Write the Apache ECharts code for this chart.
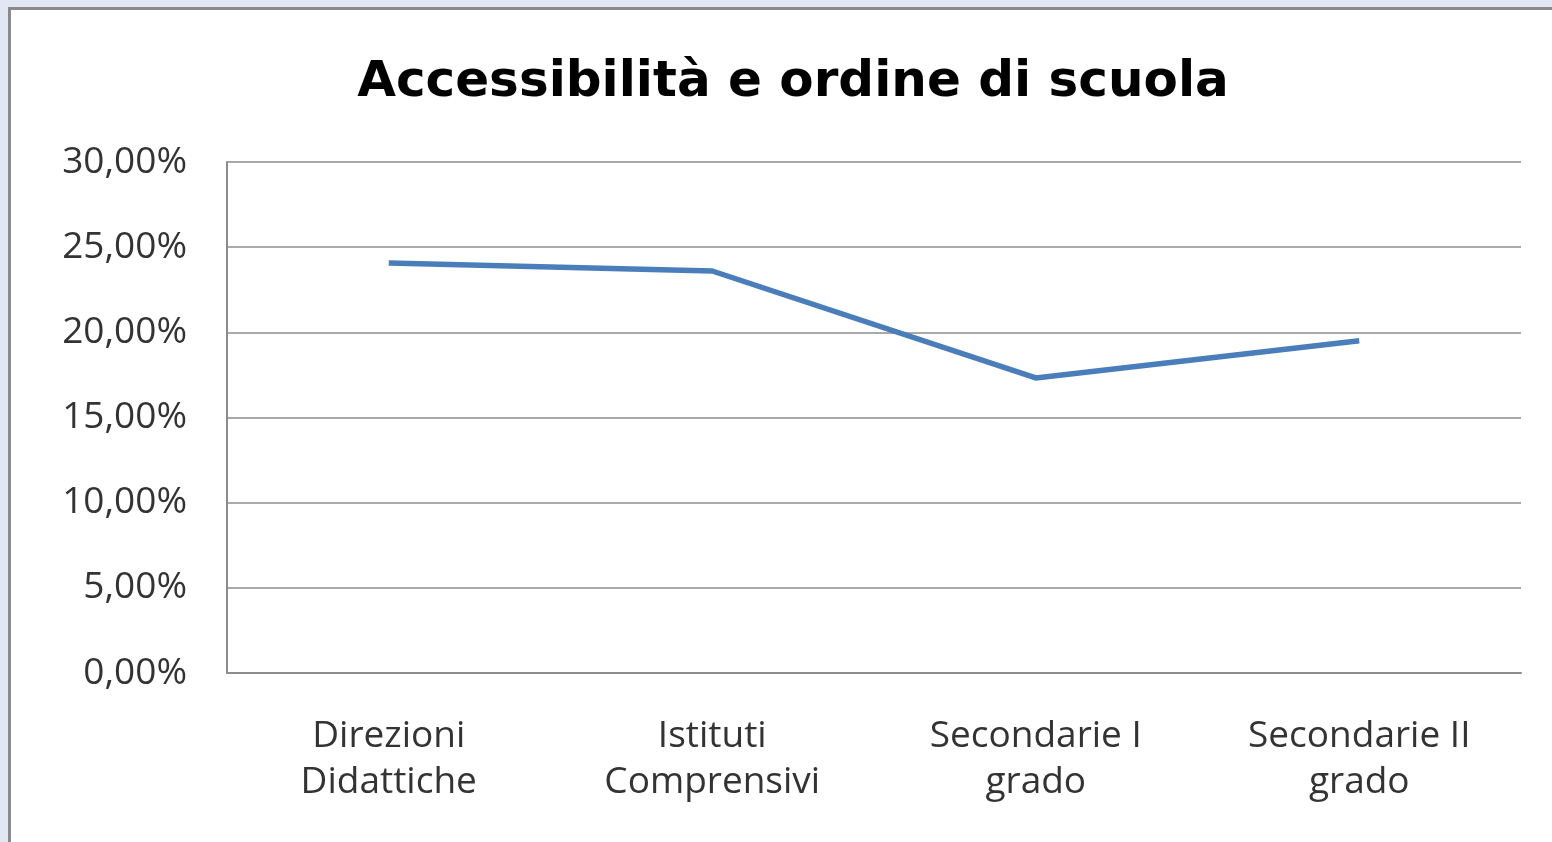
<!DOCTYPE html>
<html>
<head>
<meta charset="utf-8">
<script src="https://cdn.jsdelivr.net/npm/echarts@6/dist/echarts.min.js"></script>
<style>
  html, body { margin: 0; padding: 0; background: #e3e7f3; overflow: hidden; }
  #frame { position: absolute; left: 8px; top: 7px; width: 1560px; height: 850px;
           background: #fff; border-left: 3px solid #8a8a8a; border-top: 3px solid #8a8a8a; }
  #main { position: absolute; left: -11px; top: -10px; width: 1552px; height: 842px; }
</style>
</head>
<body>
<div id="frame"><div id="main"></div></div>
<script>
var categories = ['Direzioni\nDidattiche', 'Istituti\nComprensivi', 'Secondarie I\ngrado', 'Secondarie II\ngrado'];
var values = [24.07, 23.6, 17.32, 19.5];
var titleText = 'Accessibilità e ordine di scuola';

var myChart = echarts.init(document.getElementById('main'));

var option = {
    animation: false,
    title: {
        text: titleText,
        left: 788,
        textAlign: 'center',
        top: 53,
        textStyle: { fontFamily: 'DejaVu Sans', fontWeight: 'bold', fontSize: 50, color: '#000' }
    },
    grid: { left: 227, right: 31, top: 162, bottom: 169 },
    xAxis: {
        type: 'category',
        data: categories,
        boundaryGap: true,
        axisLine: { lineStyle: { color: '#8c8c8c', width: 2 } },
        axisTick: { show: false },
        axisLabel: { fontFamily: 'Open Sans', fontSize: 37, color: '#333', lineHeight: 46, margin: 40 }
    },
    yAxis: {
        type: 'value',
        min: 0,
        max: 30,
        interval: 5,
        axisLine: { show: true, lineStyle: { color: '#8c8c8c', width: 2 } },
        axisTick: { show: false },
        splitLine: { lineStyle: { color: '#8c8c8c', width: 1.5 } },
        axisLabel: {
            fontFamily: 'Open Sans', fontSize: 37, color: '#333', margin: 40,
            formatter: function (v) { return v.toFixed(2).replace('.', ',') + '%'; }
        }
    },
    series: [{
        type: 'line',
        data: values,
        symbol: 'none',
        lineStyle: { color: '#4a7ebb', width: 5.5 }
    }]
};

myChart.setOption(option);
</script>
</body>
</html>
